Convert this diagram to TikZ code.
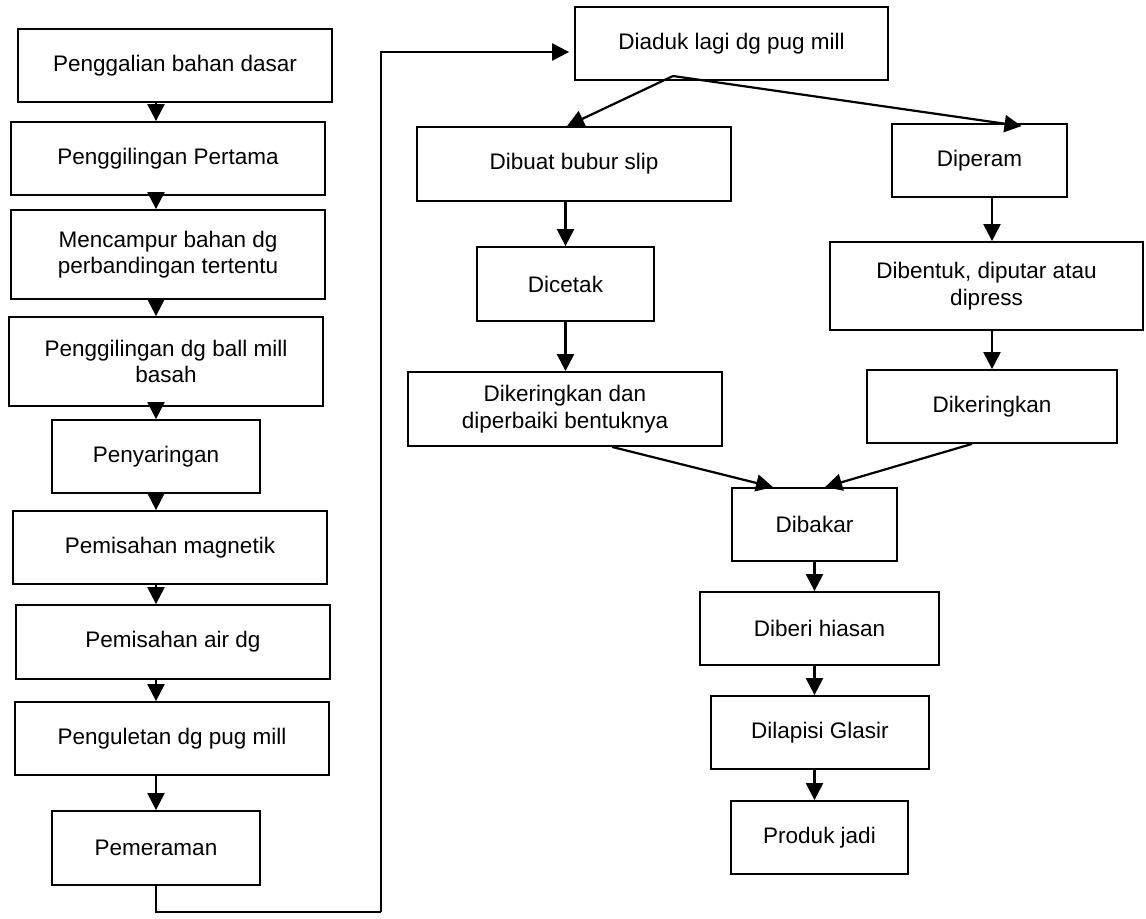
\documentclass[tikz,border=0pt]{standalone}
\usepackage{fontspec}
\setmainfont{Liberation Sans}
\usepackage{tikz}
\usetikzlibrary{calc,arrows.meta}

\begin{document}
\begin{tikzpicture}[x=0.5pt,y=-0.5pt,
	box/.style={draw,line width=0.9pt,inner sep=0pt,align=center,font=\fontsize{11.25}{13.2}\selectfont},
	arr/.style={line width=1.1pt,-{Triangle[length=8.5pt,width=8.5pt]}}]
	\useasboundingbox (0,0) rectangle (1146,918);
	% kolom kiri
	\node[box,minimum width=157pt,minimum height=36.5pt] (galian) at (175,65.5) {Penggalian bahan dasar};
	\node[box,minimum width=157pt,minimum height=36.5pt] (giling) at (168,158.5) {Penggilingan Pertama};
	\node[box,minimum width=157pt,minimum height=44.5pt] (campur) at (168,254.5) {Mencampur bahan dg\\perbandingan tertentu};
	\node[box,minimum width=157pt,minimum height=44.5pt] (ballmill) at (166,361.5) {Penggilingan dg ball mill\\basah};
	\node[box,minimum width=104pt,minimum height=36.5pt] (saring) at (156,456.5) {Penyaringan};
	\node[box,minimum width=157pt,minimum height=36.5pt] (magnet) at (170,547.5) {Pemisahan magnetik};
	\node[box,minimum width=157pt,minimum height=37pt] (air) at (173,642) {Pemisahan air dg};
	\node[box,minimum width=157pt,minimum height=36.5pt] (ulet) at (172,738.5) {Penguletan dg pug mill};
	\node[box,minimum width=104pt,minimum height=37pt] (peram) at (156,848) {Pemeraman};
	% kolom kanan
	\node[box,minimum width=156.5pt,minimum height=36.5pt] (diaduk) at (731.5,43.5) {Diaduk lagi dg pug mill};
	\node[box,minimum width=157pt,minimum height=37pt] (bubur) at (574,164) {Dibuat bubur slip};
	\node[box,minimum width=88.5pt,minimum height=37pt] (cetak) at (565.5,284) {Dicetak};
	\node[box,minimum width=157pt,minimum height=37pt] (kering1) at (565,409) {Dikeringkan dan\\diperbaiki bentuknya};
	\node[box,minimum width=87.5pt,minimum height=36.5pt] (diperam) at (979.5,160.5) {Diperam};
	\node[box,minimum width=156.5pt,minimum height=44pt] (bentuk) at (986.5,286) {Dibentuk, diputar atau\\dipress};
	\node[box,minimum width=125pt,minimum height=36.5pt] (kering2) at (992,406.5) {Dikeringkan};
	\node[box,minimum width=82.5pt,minimum height=36.5pt] (bakar) at (814.5,524.5) {Dibakar};
	\node[box,minimum width=119.5pt,minimum height=36.5pt] (hias) at (819.5,628.5) {Diberi hiasan};
	\node[box,minimum width=109pt,minimum height=36.5pt] (glasir) at (820,732.5) {Dilapisi Glasir};
	\node[box,minimum width=88.5pt,minimum height=36.5pt] (produk) at (819.5,837.5) {Produk jadi};
	\coordinate (pisah) at (673,76);
	\coordinate (balik) at (381,912);
	% panah
	\foreach \a/\b in {galian/giling,giling/campur,campur/ballmill,ballmill/saring,saring/magnet,magnet/air,air/ulet,ulet/peram}
		\draw[arr] (\a.south -| peram) -- (\b.north -| peram);
	\draw[line width=1.1pt] (peram.south) |- (balik);
	\draw[arr] (balik) |- ([yshift=-4.25pt,xshift=-2.5pt]diaduk.west);
	\draw[arr] (pisah) -- ([xshift=-3.5pt]bubur.north);
	\draw[arr] (pisah) -- ([xshift=21pt,yshift=-1.5pt]diperam.north);
	\draw[arr] (bubur.south -| cetak) -- (cetak.north);
	\draw[arr] (cetak.south) -- (kering1.north -| cetak);
	\draw[arr] (diperam.south -| kering2) -- (bentuk.north -| kering2);
	\draw[arr] (bentuk.south -| kering2) -- (kering2.north);
	\draw[arr] ([xshift=23.5pt]kering1.south) -- ([xshift=-20.75pt]bakar.north);
	\draw[arr] ([xshift=-10pt]kering2.south) -- ([xshift=5.25pt]bakar.north);
	\foreach \a/\b in {bakar/hias,hias/glasir,glasir/produk}
		\draw[arr] (\a.south -| bakar) -- (\b.north -| bakar);
\end{tikzpicture}
\end{document}
